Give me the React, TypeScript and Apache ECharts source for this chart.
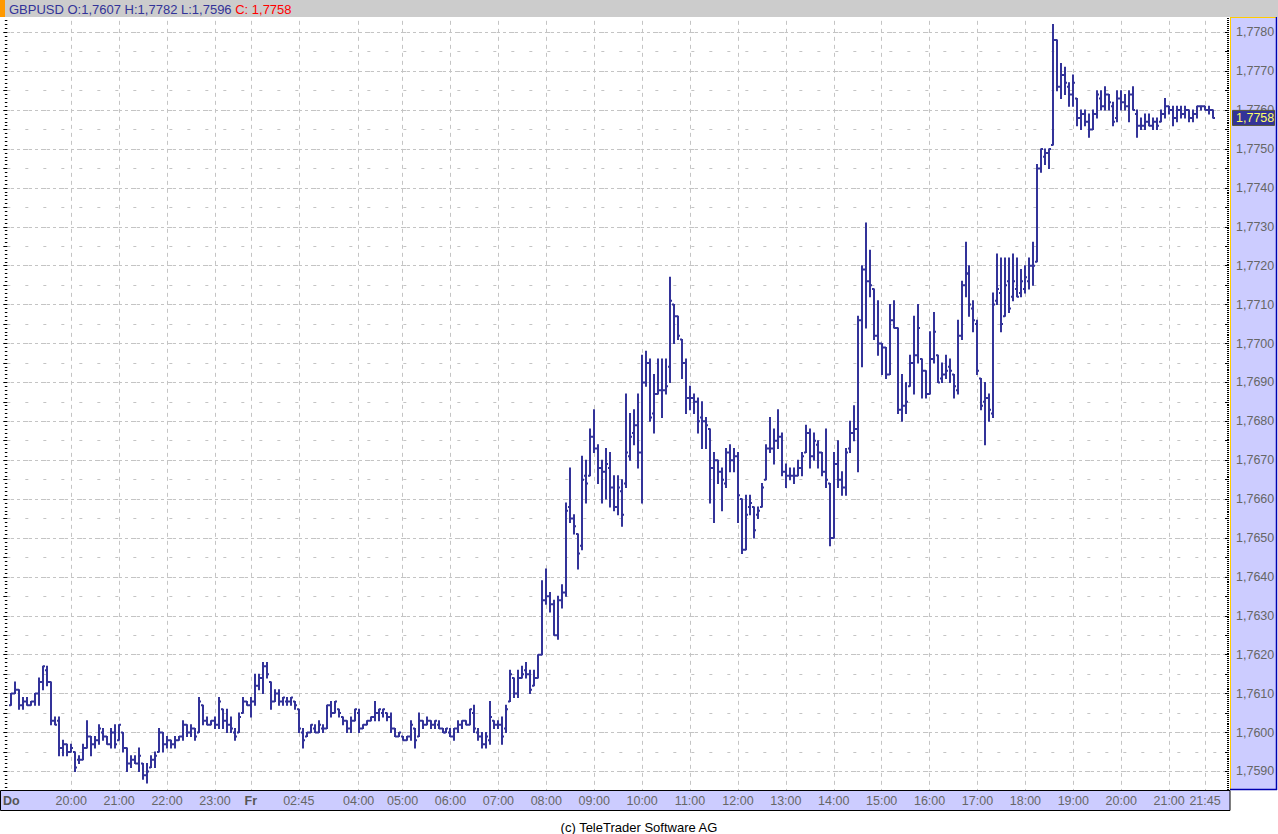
import React, { useEffect, useRef } from "react";
import * as echarts from "echarts";

// x-axis tick labels: bar index -> text
const tickBars = [0, 15, 27, 39, 51, 60, 72, 87, 98, 110, 122, 134, 146, 158, 170, 182, 194, 206, 218, 230, 242, 254, 266, 278, 290, 299];
const tickTexts = ["Do", "20:00", "21:00", "22:00", "23:00", "Fr", "02:45", "04:00", "05:00", "06:00", "07:00", "08:00", "09:00", "10:00", "11:00", "12:00", "13:00", "14:00", "15:00", "16:00", "17:00", "18:00", "19:00", "20:00", "21:00", "21:45"];
const boldTicks = ["Do", "Fr"];

const headerMain = "GBPUSD O:1,7607 H:1,7782 L:1,7596 ";
const headerClose = "C: 1,7758";
const footerText = "(c) TeleTrader Software AG";

// 5-minute bars
const opens = [
  1.7607, 1.7610, 1.7611, 1.7607, 1.7608, 1.7607, 1.7608, 1.7610, 1.7613, 1.7616, 1.7613, 1.7603,
  1.7603, 1.7596, 1.7597, 1.7595, 1.7595, 1.7593, 1.7593, 1.7596, 1.7599, 1.7597, 1.7598, 1.7600,
  1.7599, 1.7597, 1.7600, 1.7598, 1.7600, 1.7596, 1.7592, 1.7593, 1.7592, 1.7592, 1.7589, 1.7591,
  1.7593, 1.7595, 1.7600, 1.7597, 1.7598, 1.7597, 1.7598, 1.7599, 1.7602, 1.7600, 1.7601, 1.7600,
  1.7607, 1.7603, 1.7602, 1.7603, 1.7602, 1.7606, 1.7603, 1.7602, 1.7600, 1.7600, 1.7605, 1.7608,
  1.7607, 1.7608, 1.7612, 1.7614, 1.7617, 1.7613, 1.7608, 1.7610, 1.7608, 1.7608, 1.7608, 1.7608,
  1.7606, 1.7600, 1.7599, 1.7600, 1.7601, 1.7600, 1.7601, 1.7601, 1.7607, 1.7605, 1.7606, 1.7604,
  1.7603, 1.7601, 1.7603, 1.7605, 1.7601, 1.7602, 1.7603, 1.7604, 1.7605, 1.7605, 1.7605, 1.7604,
  1.7601, 1.7599, 1.7599, 1.7598, 1.7599, 1.7601, 1.7599, 1.7603, 1.7602, 1.7603, 1.7602, 1.7602,
  1.7601, 1.7600, 1.7600, 1.7599, 1.7601, 1.7602, 1.7603, 1.7602, 1.7605, 1.7600, 1.7599, 1.7597,
  1.7598, 1.7603, 1.7602, 1.7602, 1.7601, 1.7608, 1.7614, 1.7610, 1.7614, 1.7616, 1.7615, 1.7612,
  1.7614, 1.7620, 1.7634, 1.7635, 1.7633, 1.7625, 1.7634, 1.7636, 1.7658, 1.7655, 1.7651, 1.7648,
  1.7666, 1.7666, 1.7676, 1.7673, 1.7668, 1.7667, 1.7668, 1.7663, 1.7658, 1.7662, 1.7664, 1.7671,
  1.7677, 1.7679, 1.7672, 1.7690, 1.7695, 1.7682, 1.7687, 1.7688, 1.7688, 1.7694, 1.7710, 1.7707,
  1.7701, 1.7695, 1.7686, 1.7686, 1.7685, 1.7681, 1.7680, 1.7678, 1.7668, 1.7670, 1.7667, 1.7664,
  1.7672, 1.7670, 1.7671, 1.7660, 1.7647, 1.7658, 1.7658, 1.7656, 1.7658, 1.7665, 1.7673, 1.7673,
  1.7675, 1.7676, 1.7667, 1.7666, 1.7666, 1.7666, 1.7668, 1.7672, 1.7677, 1.7671, 1.7674, 1.7672,
  1.7667, 1.7664, 1.7650, 1.7669, 1.7665, 1.7663, 1.7673, 1.7677, 1.7678, 1.7706, 1.7719, 1.7716,
  1.7714, 1.7702, 1.7700, 1.7699, 1.7692, 1.7706, 1.7704, 1.7683, 1.7684, 1.7689, 1.7695, 1.7697,
  1.7696, 1.7693, 1.7687, 1.7696, 1.7697, 1.7691, 1.7692, 1.7694, 1.7692, 1.7688, 1.7702, 1.7715,
  1.7718, 1.7709, 1.7705, 1.7691, 1.7685, 1.7686, 1.7682, 1.7711, 1.7713, 1.7707, 1.7716, 1.7712,
  1.7714, 1.7713, 1.7714, 1.7716, 1.7720, 1.7721, 1.7745, 1.7748, 1.7749, 1.7751, 1.7778, 1.7766,
  1.7769, 1.7766, 1.7764, 1.7763, 1.7758, 1.7759, 1.7757, 1.7755, 1.7759, 1.7763, 1.7761, 1.7764,
  1.7761, 1.7758, 1.7763, 1.7762, 1.7761, 1.7764, 1.7759, 1.7756, 1.7756, 1.7757, 1.7756, 1.7757,
  1.7757, 1.7759, 1.7761, 1.7760, 1.7758, 1.7760, 1.7759, 1.7760, 1.7758, 1.7759, 1.7761, 1.7761,
  1.7760, 1.7760,
];

const highs = [
  1.7610, 1.7613, 1.7611, 1.7609, 1.7609, 1.7608, 1.7610, 1.7614, 1.7617, 1.7617, 1.7613, 1.7604,
  1.7604, 1.7598, 1.7597, 1.7597, 1.7595, 1.7594, 1.7597, 1.7603, 1.7599, 1.7599, 1.7602, 1.7601,
  1.7599, 1.7601, 1.7602, 1.7602, 1.7600, 1.7596, 1.7594, 1.7594, 1.7596, 1.7592, 1.7592, 1.7594,
  1.7595, 1.7601, 1.7600, 1.7599, 1.7598, 1.7599, 1.7599, 1.7603, 1.7602, 1.7602, 1.7601, 1.7609,
  1.7607, 1.7604, 1.7603, 1.7604, 1.7609, 1.7606, 1.7606, 1.7604, 1.7601, 1.7605, 1.7609, 1.7608,
  1.7609, 1.7615, 1.7615, 1.7618, 1.7618, 1.7613, 1.7611, 1.7611, 1.7609, 1.7609, 1.7609, 1.7608,
  1.7606, 1.7601, 1.7600, 1.7602, 1.7602, 1.7603, 1.7602, 1.7607, 1.7608, 1.7608, 1.7606, 1.7604,
  1.7603, 1.7604, 1.7606, 1.7606, 1.7602, 1.7603, 1.7604, 1.7608, 1.7606, 1.7606, 1.7605, 1.7605,
  1.7601, 1.7600, 1.7599, 1.7599, 1.7603, 1.7601, 1.7605, 1.7603, 1.7604, 1.7603, 1.7603, 1.7603,
  1.7601, 1.7601, 1.7601, 1.7601, 1.7603, 1.7603, 1.7603, 1.7606, 1.7607, 1.7601, 1.7600, 1.7600,
  1.7608, 1.7603, 1.7603, 1.7604, 1.7607, 1.7616, 1.7614, 1.7616, 1.7617, 1.7618, 1.7616, 1.7616,
  1.7620, 1.7639, 1.7642, 1.7636, 1.7634, 1.7635, 1.7638, 1.7659, 1.7668, 1.7656, 1.7651, 1.7671,
  1.7670, 1.7678, 1.7683, 1.7674, 1.7670, 1.7673, 1.7672, 1.7666, 1.7666, 1.7665, 1.7687, 1.7682,
  1.7683, 1.7687, 1.7697, 1.7698, 1.7696, 1.7692, 1.7696, 1.7696, 1.7696, 1.7717, 1.7710, 1.7707,
  1.7701, 1.7696, 1.7689, 1.7687, 1.7686, 1.7685, 1.7681, 1.7678, 1.7672, 1.7670, 1.7668, 1.7673,
  1.7674, 1.7673, 1.7672, 1.7660, 1.7661, 1.7661, 1.7658, 1.7658, 1.7664, 1.7674, 1.7681, 1.7678,
  1.7683, 1.7677, 1.7669, 1.7668, 1.7668, 1.7670, 1.7672, 1.7679, 1.7678, 1.7677, 1.7675, 1.7672,
  1.7678, 1.7664, 1.7672, 1.7675, 1.7667, 1.7673, 1.7680, 1.7684, 1.7707, 1.7720, 1.7731, 1.7724,
  1.7714, 1.7711, 1.7700, 1.7699, 1.7710, 1.7711, 1.7704, 1.7692, 1.7690, 1.7697, 1.7707, 1.7710,
  1.7696, 1.7693, 1.7703, 1.7708, 1.7697, 1.7695, 1.7697, 1.7696, 1.7692, 1.7706, 1.7716, 1.7726,
  1.7720, 1.7711, 1.7706, 1.7691, 1.7690, 1.7687, 1.7713, 1.7723, 1.7722, 1.7722, 1.7722, 1.7723,
  1.7722, 1.7719, 1.7720, 1.7722, 1.7726, 1.7746, 1.7750, 1.7750, 1.7750, 1.7782, 1.7778, 1.7772,
  1.7771, 1.7767, 1.7769, 1.7763, 1.7760, 1.7760, 1.7759, 1.7760, 1.7765, 1.7765, 1.7766, 1.7764,
  1.7762, 1.7765, 1.7765, 1.7764, 1.7765, 1.7766, 1.7760, 1.7758, 1.7759, 1.7759, 1.7758, 1.7758,
  1.7760, 1.7763, 1.7761, 1.7761, 1.7761, 1.7761, 1.7761, 1.7760, 1.7760, 1.7761, 1.7761, 1.7761,
  1.7761, 1.7760,
];

const lows = [
  1.7607, 1.7610, 1.7606, 1.7606, 1.7607, 1.7607, 1.7607, 1.7607, 1.7611, 1.7612, 1.7602, 1.7602,
  1.7594, 1.7594, 1.7594, 1.7595, 1.7590, 1.7592, 1.7593, 1.7596, 1.7594, 1.7596, 1.7597, 1.7598,
  1.7597, 1.7596, 1.7596, 1.7598, 1.7595, 1.7590, 1.7591, 1.7592, 1.7590, 1.7588, 1.7587, 1.7591,
  1.7591, 1.7595, 1.7595, 1.7596, 1.7596, 1.7596, 1.7598, 1.7598, 1.7599, 1.7599, 1.7598, 1.7600,
  1.7602, 1.7602, 1.7602, 1.7601, 1.7601, 1.7601, 1.7600, 1.7600, 1.7598, 1.7600, 1.7605, 1.7607,
  1.7604, 1.7607, 1.7611, 1.7610, 1.7614, 1.7606, 1.7608, 1.7607, 1.7607, 1.7607, 1.7607, 1.7606,
  1.7600, 1.7596, 1.7599, 1.7600, 1.7600, 1.7600, 1.7600, 1.7601, 1.7604, 1.7605, 1.7604, 1.7602,
  1.7600, 1.7600, 1.7603, 1.7600, 1.7601, 1.7602, 1.7603, 1.7603, 1.7603, 1.7604, 1.7603, 1.7600,
  1.7599, 1.7599, 1.7598, 1.7598, 1.7598, 1.7596, 1.7599, 1.7601, 1.7602, 1.7601, 1.7601, 1.7601,
  1.7600, 1.7600, 1.7599, 1.7598, 1.7600, 1.7601, 1.7602, 1.7602, 1.7600, 1.7598, 1.7596, 1.7596,
  1.7597, 1.7601, 1.7601, 1.7597, 1.7600, 1.7608, 1.7609, 1.7609, 1.7614, 1.7614, 1.7610, 1.7612,
  1.7614, 1.7620, 1.7633, 1.7631, 1.7625, 1.7624, 1.7632, 1.7635, 1.7654, 1.7651, 1.7642, 1.7647,
  1.7659, 1.7666, 1.7672, 1.7664, 1.7659, 1.7660, 1.7658, 1.7657, 1.7656, 1.7653, 1.7663, 1.7670,
  1.7674, 1.7668, 1.7659, 1.7689, 1.7680, 1.7677, 1.7687, 1.7681, 1.7687, 1.7690, 1.7700, 1.7701,
  1.7691, 1.7682, 1.7683, 1.7682, 1.7677, 1.7673, 1.7673, 1.7659, 1.7654, 1.7664, 1.7657, 1.7663,
  1.7667, 1.7667, 1.7654, 1.7646, 1.7647, 1.7656, 1.7650, 1.7655, 1.7658, 1.7665, 1.7672, 1.7669,
  1.7673, 1.7666, 1.7663, 1.7665, 1.7664, 1.7666, 1.7666, 1.7672, 1.7668, 1.7670, 1.7668, 1.7666,
  1.7663, 1.7648, 1.7650, 1.7663, 1.7661, 1.7661, 1.7672, 1.7675, 1.7667, 1.7694, 1.7704, 1.7712,
  1.7701, 1.7697, 1.7692, 1.7691, 1.7692, 1.7704, 1.7682, 1.7680, 1.7682, 1.7689, 1.7687, 1.7695,
  1.7686, 1.7686, 1.7687, 1.7695, 1.7690, 1.7690, 1.7691, 1.7690, 1.7686, 1.7687, 1.7701, 1.7712,
  1.7707, 1.7703, 1.7692, 1.7683, 1.7674, 1.7680, 1.7681, 1.7710, 1.7703, 1.7707, 1.7708, 1.7711,
  1.7712, 1.7712, 1.7713, 1.7714, 1.7715, 1.7721, 1.7744, 1.7746, 1.7745, 1.7751, 1.7765, 1.7763,
  1.7764, 1.7761, 1.7761, 1.7756, 1.7755, 1.7756, 1.7753, 1.7755, 1.7758, 1.7760, 1.7760, 1.7760,
  1.7756, 1.7757, 1.7760, 1.7760, 1.7757, 1.7760, 1.7753, 1.7755, 1.7755, 1.7756, 1.7755, 1.7755,
  1.7757, 1.7758, 1.7759, 1.7756, 1.7757, 1.7758, 1.7758, 1.7757, 1.7757, 1.7758, 1.7760, 1.7760,
  1.7759, 1.7758,
];

const closes = [
  1.7610, 1.7611, 1.7607, 1.7608, 1.7607, 1.7608, 1.7610, 1.7613, 1.7617, 1.7613, 1.7603, 1.7602,
  1.7596, 1.7597, 1.7595, 1.7596, 1.7591, 1.7593, 1.7596, 1.7599, 1.7597, 1.7598, 1.7601, 1.7599,
  1.7597, 1.7600, 1.7597, 1.7602, 1.7596, 1.7592, 1.7593, 1.7592, 1.7594, 1.7589, 1.7590, 1.7593,
  1.7594, 1.7600, 1.7597, 1.7598, 1.7597, 1.7598, 1.7599, 1.7602, 1.7600, 1.7601, 1.7599, 1.7608,
  1.7603, 1.7602, 1.7603, 1.7602, 1.7608, 1.7603, 1.7602, 1.7601, 1.7599, 1.7604, 1.7608, 1.7607,
  1.7608, 1.7612, 1.7614, 1.7617, 1.7615, 1.7608, 1.7610, 1.7608, 1.7609, 1.7608, 1.7609, 1.7607,
  1.7601, 1.7598, 1.7600, 1.7602, 1.7600, 1.7602, 1.7601, 1.7607, 1.7605, 1.7608, 1.7605, 1.7603,
  1.7601, 1.7603, 1.7606, 1.7601, 1.7602, 1.7603, 1.7604, 1.7605, 1.7606, 1.7606, 1.7604, 1.7601,
  1.7599, 1.7600, 1.7598, 1.7599, 1.7602, 1.7598, 1.7603, 1.7602, 1.7603, 1.7602, 1.7603, 1.7601,
  1.7600, 1.7601, 1.7599, 1.7601, 1.7602, 1.7603, 1.7602, 1.7606, 1.7601, 1.7599, 1.7597, 1.7599,
  1.7604, 1.7602, 1.7602, 1.7599, 1.7606, 1.7615, 1.7610, 1.7614, 1.7615, 1.7615, 1.7611, 1.7614,
  1.7620, 1.7634, 1.7635, 1.7633, 1.7625, 1.7634, 1.7636, 1.7657, 1.7655, 1.7653, 1.7646, 1.7665,
  1.7664, 1.7676, 1.7673, 1.7668, 1.7667, 1.7669, 1.7663, 1.7658, 1.7663, 1.7656, 1.7672, 1.7676,
  1.7679, 1.7672, 1.7690, 1.7695, 1.7681, 1.7687, 1.7688, 1.7688, 1.7689, 1.7711, 1.7707, 1.7702,
  1.7695, 1.7686, 1.7686, 1.7685, 1.7680, 1.7680, 1.7679, 1.7668, 1.7670, 1.7667, 1.7665, 1.7672,
  1.7670, 1.7671, 1.7661, 1.7647, 1.7656, 1.7659, 1.7652, 1.7657, 1.7663, 1.7673, 1.7673, 1.7675,
  1.7676, 1.7667, 1.7666, 1.7666, 1.7666, 1.7668, 1.7671, 1.7677, 1.7671, 1.7675, 1.7672, 1.7667,
  1.7665, 1.7650, 1.7669, 1.7665, 1.7663, 1.7672, 1.7677, 1.7678, 1.7706, 1.7719, 1.7716, 1.7715,
  1.7702, 1.7700, 1.7699, 1.7692, 1.7706, 1.7704, 1.7683, 1.7684, 1.7685, 1.7695, 1.7697, 1.7704,
  1.7693, 1.7687, 1.7696, 1.7703, 1.7690, 1.7692, 1.7693, 1.7693, 1.7689, 1.7702, 1.7715, 1.7718,
  1.7710, 1.7706, 1.7693, 1.7684, 1.7686, 1.7683, 1.7710, 1.7714, 1.7705, 1.7715, 1.7709, 1.7716,
  1.7712, 1.7716, 1.7717, 1.7720, 1.7720, 1.7745, 1.7750, 1.7749, 1.7750, 1.7778, 1.7766, 1.7769,
  1.7767, 1.7764, 1.7767, 1.7758, 1.7759, 1.7757, 1.7755, 1.7759, 1.7764, 1.7761, 1.7764, 1.7762,
  1.7757, 1.7763, 1.7762, 1.7761, 1.7764, 1.7760, 1.7756, 1.7756, 1.7757, 1.7756, 1.7757, 1.7756,
  1.7759, 1.7761, 1.7760, 1.7758, 1.7760, 1.7759, 1.7760, 1.7758, 1.7759, 1.7761, 1.7761, 1.7760,
  1.7760, 1.7758,
];

const FONT = "'Liberation Sans', Arial, sans-serif";
const BAR_COLOR = "#333399";

export default function App() {
  const ref = useRef<HTMLDivElement>(null);

  useEffect(() => {
    const el = ref.current;
    if (!el) return;
    const chart = echarts.init(el, null, { renderer: "svg", width: 1278, height: 834 });

    const LEAD = 1; // empty category before first bar
    const TRAIL = 4; // empty categories after last bar
    const nCat = LEAD + opens.length + TRAIL;
    const categories = Array.from({ length: nCat }, (_, k) => String(k));
    const labelMap = new Map<number, string>();
    tickBars.forEach((b, j) => labelMap.set(b + LEAD, tickTexts[j]));
    const gridSet = new Set<number>();
    tickBars.forEach((b, j) => {
      if (tickTexts[j] !== "Do") gridSet.add(b + LEAD);
    });

    const seriesData = opens.map((o, i) => [i + LEAD, o, highs[i], lows[i], closes[i]]);

    const fmtPrice = (v: number) => v.toFixed(4).replace(".", ",");

    chart.setOption({
      animation: false,
      backgroundColor: "#ffffff",
      grid: [
        { left: 5, top: 12.85, width: 1224, height: 778 },
        { left: 5, top: 32.3, width: 1224, height: 739.1 },
      ],
      xAxis: [
        {
          type: "category",
          gridIndex: 0,
          position: "bottom",
          data: categories,
          boundaryGap: false,
          z: 0,
          axisLine: { show: false, onZero: false },
          axisTick: { show: false },
          axisLabel: { show: false },
          splitLine: {
            show: true,
            interval: (idx: number) => gridSet.has(idx),
            lineStyle: { color: "#c4c4c4", width: 1, type: [4, 4] },
          },
        },
        {
          type: "category",
          gridIndex: 0,
          position: "bottom",
          data: categories,
          boundaryGap: false,
          z: 60,
          axisLine: { show: false, onZero: false },
          axisTick: { show: false },
          splitLine: { show: false },
          axisLabel: {
            show: true,
            margin: 4,
            interval: (idx: number) => labelMap.has(idx),
            formatter: (_v: string, idx: number) => {
              const t = labelMap.get(idx);
              if (!t) return "";
              return boldTicks.includes(t) ? `{b|${t}}` : t;
            },
            color: "#666666",
            fontSize: 12.5,
            fontFamily: FONT,
            rich: {
              b: { fontWeight: "bold", color: "#555555", fontSize: 12.5, fontFamily: FONT },
            },
          },
        },
        {
          type: "value",
          gridIndex: 1,
          position: "bottom",
          min: 0,
          max: 1,
          show: false,
          splitLine: { show: false },
        },
      ],
      yAxis: [
        {
          type: "value",
          gridIndex: 0,
          position: "left",
          min: 1.7585,
          max: 1.7785,
          interval: 0.0005,
          z: 0,
          axisLine: { show: false },
          axisLabel: { show: false },
          axisTick: { show: true, length: 4, lineStyle: { color: "#000000", width: 1 } },
          minorTick: { show: true, splitNumber: 5, length: 2.5, lineStyle: { color: "#000000", width: 1 } },
          splitLine: { show: true, lineStyle: { color: "#c4c4c4", width: 1, type: [3, 15] } },
        },
        {
          type: "value",
          gridIndex: 1,
          position: "left",
          min: 1.759,
          max: 1.778,
          interval: 0.001,
          z: 0,
          axisLine: { show: false },
          axisLabel: { show: false },
          axisTick: { show: false },
          splitLine: { show: true, lineStyle: { color: "#c4c4c4", width: 1, type: [3, 3] } },
        },
        {
          type: "value",
          gridIndex: 0,
          position: "right",
          min: 1.7585,
          max: 1.7785,
          interval: 0.0005,
          z: 55,
          axisLine: { show: false },
          splitLine: { show: false },
          axisTick: { show: true, inside: true, length: 4, lineStyle: { color: "#000000", width: 1 } },
          minorTick: { show: true, splitNumber: 10, length: 2, lineStyle: { color: "#000000", width: 1 } },
          axisLabel: {
            show: true,
            margin: 7,
            color: "#666666",
            fontSize: 12.5,
            fontFamily: FONT,
            showMinLabel: false,
            showMaxLabel: false,
            formatter: (v: number) => {
              const pips = Math.round(v * 10000);
              if (pips % 10 !== 0) return "";
              return fmtPrice(v);
            },
          },
        },
      ],
      series: [
        {
          type: "custom",
          xAxisIndex: 0,
          yAxisIndex: 0,
          z: 2,
          data: seriesData,
          encode: { x: 0, y: [1, 2, 3, 4] },
          renderItem: (_params: any, api: any) => {
            const k = api.value(0);
            const pO = api.coord([k, api.value(1)]);
            const pH = api.coord([k, api.value(2)]);
            const pL = api.coord([k, api.value(3)]);
            const pC = api.coord([k, api.value(4)]);
            const x = Math.round(pH[0]);
            const st = { stroke: BAR_COLOR, lineWidth: 2, lineCap: "butt" };
            return {
              type: "group",
              children: [
                { type: "line", shape: { x1: x, y1: pH[1] - 0.5, x2: x, y2: pL[1] + 0.5 }, style: st },
                { type: "line", shape: { x1: x - 2, y1: pO[1], x2: x, y2: pO[1] }, style: st },
                { type: "line", shape: { x1: x, y1: pC[1], x2: x + 2, y2: pC[1] }, style: st },
              ],
            };
          },
        },
      ],
    });

    const lastClose = closes[closes.length - 1];
    const py = chart.convertToPixel({ yAxisIndex: 0 }, lastClose) as number;

    chart.setOption({
      graphic: [
        // header
        { id: "hdr", type: "rect", z: 58, shape: { x: 0, y: 0, width: 1278, height: 17 }, style: { fill: "#cccccc" } },
        { id: "hdrO", type: "rect", z: 59, shape: { x: 0, y: 0, width: 5, height: 17 }, style: { fill: "#ff9900" } },
        {
          id: "hdrT",
          type: "text",
          z: 59,
          x: 9,
          y: 9,
          style: {
            text: `{n|${headerMain}}{r|${headerClose}}`,
            verticalAlign: "middle",
            rich: {
              n: { fill: "#333399", fontSize: 13, fontFamily: FONT },
              r: { fill: "#ff0000", fontSize: 13, fontFamily: FONT },
            },
          },
        },
        // right price panel
        { id: "pnl", type: "rect", z: 50, shape: { x: 1230, y: 17, width: 47, height: 773 }, style: { fill: "#ccccff" } },
        { id: "pnlL", type: "line", z: 51, shape: { x1: 1230.5, y1: 17, x2: 1230.5, y2: 790 }, style: { stroke: "#ffcc00", lineWidth: 1 } },
        { id: "pnlT", type: "line", z: 51, shape: { x1: 1230, y1: 17.5, x2: 1277, y2: 17.5 }, style: { stroke: "#ffcc00", lineWidth: 1 } },
        { id: "pnlR", type: "line", z: 51, shape: { x1: 1276.5, y1: 17, x2: 1276.5, y2: 790 }, style: { stroke: "#0000b0", lineWidth: 1.5 } },
        { id: "pnlB", type: "line", z: 51, shape: { x1: 1230, y1: 789.5, x2: 1277, y2: 789.5 }, style: { stroke: "#0000b0", lineWidth: 1.5 } },
        // time band
        {
          id: "band",
          type: "rect",
          z: 58,
          shape: { x: 0.5, y: 790.5, width: 1229.5, height: 20 },
          style: { fill: "#ccccff", stroke: "#000000", lineWidth: 1 },
        },
        // current price marker
        {
          id: "pm",
          type: "rect",
          z: 62,
          shape: { x: 1232.5, y: py - 7.5, width: 42, height: 15 },
          style: { fill: "#333399", stroke: "#555533", lineWidth: 1 },
        },
        {
          id: "pmT",
          type: "text",
          z: 63,
          x: 1236,
          y: py + 0.5,
          style: { text: fmtPrice(lastClose), fill: "#ffff66", fontSize: 12.5, fontFamily: FONT, verticalAlign: "middle" },
        },
        // footer
        {
          id: "ftr",
          type: "text",
          z: 59,
          x: 639,
          y: 827,
          style: { text: footerText, fill: "#000000", fontSize: 13, fontFamily: FONT, align: "center", verticalAlign: "middle" },
        },
      ],
    });

    return () => chart.dispose();
  }, []);

  return (
    <div
      ref={ref}
      style={{ position: "fixed", left: 0, top: 0, width: 1278, height: 834, background: "#ffffff" }}
    />
  );
}
